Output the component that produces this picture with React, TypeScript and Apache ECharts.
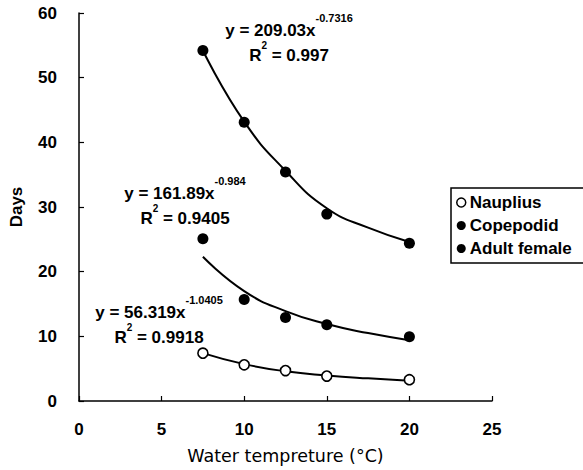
import React, { useEffect, useRef } from "react";
import * as echarts from "echarts";

const xTemp = [7.5, 10, 12.5, 15, 20];
const nauplius = [7.4, 5.6, 4.7, 3.85, 3.3];
const copepodid = [25.1, 15.7, 12.9, 11.8, 9.95];
const adultFemale = [54.2, 43.1, 35.4, 28.9, 24.4];

const trendX = [7.5, 10, 12.5, 15, 17.5, 20];
const naupliusTrend = [7.4, 5.7, 4.6, 3.95, 3.5, 3.15];
const copepodidTrend = [22.3, 17.0, 13.9, 11.9, 10.5, 9.4];
const adultTrend = [54.2, 43.2, 35.6, 29.8, 26.8, 24.6];

const seriesNames = ["Nauplius", "Copepodid", "Adult female"];
const equations = [
  { main: "y = 209.03x", sup: "-0.7316", r2: "0.997" },
  { main: "y = 161.89x", sup: "-0.984", r2: "0.9405" },
  { main: "y = 56.319x", sup: "-1.0405", r2: "0.9918" },
];

const FONT = "'Liberation Sans', Arial, sans-serif";

function pairs(xs: number[], ys: number[]) {
  return xs.map((x, i) => [x, ys[i]]);
}

export default function App() {
  const ref = useRef<HTMLDivElement>(null);
  useEffect(() => {
    document.body.style.margin = "0";
    const chart = echarts.init(ref.current!, null, { renderer: "svg" });
    const eqPos = [
      { x: 289, y: 30 },
      { x: 185, y: 193 },
      { x: 159, y: 312 },
    ];
    const graphics: any[] = [];
    equations.forEach((e, i) => {
      const p = eqPos[i];
      graphics.push({
        type: "text",
        x: p.x,
        y: p.y,
        style: {
          text: `{a|${e.main}}{s|${e.sup}}`,
          align: "center",
          verticalAlign: "middle",
          rich: {
            a: { fontSize: 17, fontWeight: "bold", fontFamily: FONT, lineHeight: 36, fill: "#000" },
            s: { fontSize: 11, fontWeight: "bold", fontFamily: FONT, lineHeight: 11, verticalAlign: "top", fill: "#000" },
          },
        },
      });
      graphics.push({
        type: "text",
        x: p.x,
        y: p.y + 25,
        style: {
          text: `{a|R}{s|2}{a| = ${e.r2}}`,
          align: "center",
          verticalAlign: "middle",
          rich: {
            a: { fontSize: 17, fontWeight: "bold", fontFamily: FONT, lineHeight: 30, fill: "#000" },
            s: { fontSize: 10, fontWeight: "bold", fontFamily: FONT, lineHeight: 10, verticalAlign: "top", fill: "#000" },
          },
        },
      });
    });

    const markerSeries = (name: string, data: number[][], open: boolean) => ({
      name,
      type: "scatter",
      data,
      symbol: "circle",
      symbolSize: open ? 10 : 11,
      z: 5,
      itemStyle: open
        ? { color: "#fff", borderColor: "#000", borderWidth: 1.6, opacity: 1 }
        : { color: "#000", borderColor: "#000", borderWidth: 0, opacity: 1 },
    });
    const trendSeries = (data: number[][]) => ({
      type: "line",
      data,
      smooth: 0.5,
      showSymbol: false,
      symbol: "none",
      z: 2,
      lineStyle: { color: "#000", width: 2 },
      silent: true,
    });

    chart.setOption({
      animation: false,
      backgroundColor: "#fff",
      grid: { left: 79, right: 91, top: 13, bottom: 67, containLabel: false },
      xAxis: {
        type: "value",
        min: 0,
        max: 25,
        interval: 5,
        name: "Water tempreture (°C)",
        nameLocation: "middle",
        nameGap: 46,
        nameTextStyle: { fontSize: 17.5, fontFamily: "'DejaVu Sans', sans-serif", color: "#000" },
        axisLine: { lineStyle: { color: "#000", width: 1.5 } },
        axisTick: { inside: true, length: 5, lineStyle: { color: "#000", width: 1.2 } },
        axisLabel: { fontSize: 17, fontWeight: "bold", fontFamily: FONT, color: "#000", margin: 20 },
        splitLine: { show: false },
      },
      yAxis: {
        type: "value",
        min: 0,
        max: 60,
        interval: 10,
        name: "Days",
        nameLocation: "middle",
        nameGap: 54,
        nameTextStyle: { fontSize: 17, fontFamily: FONT, color: "#000", fontWeight: "bold" },
        axisLine: { show: true, lineStyle: { color: "#000", width: 1.5 } },
        axisTick: { show: true, inside: true, length: 5, lineStyle: { color: "#000", width: 1.2 } },
        axisLabel: { fontSize: 17, fontWeight: "bold", fontFamily: FONT, color: "#000", margin: 22 },
        splitLine: { show: false },
      },
      legend: {
        orient: "vertical",
        left: 451,
        top: 188,
        padding: [6, 40, 6, 5],
        itemGap: 6,
        itemWidth: 9,
        itemHeight: 9,
        borderColor: "#000",
        borderWidth: 1.5,
        borderRadius: 0,
        backgroundColor: "#fff",
        textStyle: { fontSize: 17, fontWeight: "bold", fontFamily: FONT, color: "#000", padding: [0, 0, 0, -1] },
        data: [
          { name: seriesNames[0], icon: "circle", itemStyle: { color: "#fff", borderColor: "#000", borderWidth: 1.5, opacity: 1 } },
          { name: seriesNames[1], icon: "circle", itemStyle: { color: "#000", borderWidth: 0, opacity: 1 } },
          { name: seriesNames[2], icon: "circle", itemStyle: { color: "#000", borderWidth: 0, opacity: 1 } },
        ],
      },
      series: [
        trendSeries(pairs(trendX, naupliusTrend)),
        trendSeries(pairs(trendX, copepodidTrend)),
        trendSeries(pairs(trendX, adultTrend)),
        markerSeries(seriesNames[0], pairs(xTemp, nauplius), true),
        markerSeries(seriesNames[1], pairs(xTemp, copepodid), false),
        markerSeries(seriesNames[2], pairs(xTemp, adultFemale), false),
      ],
      graphic: graphics,
    });
    return () => chart.dispose();
  }, []);
  return <div ref={ref} style={{ width: 583, height: 470, position: "absolute", left: 0, top: 0 }} />;
}
